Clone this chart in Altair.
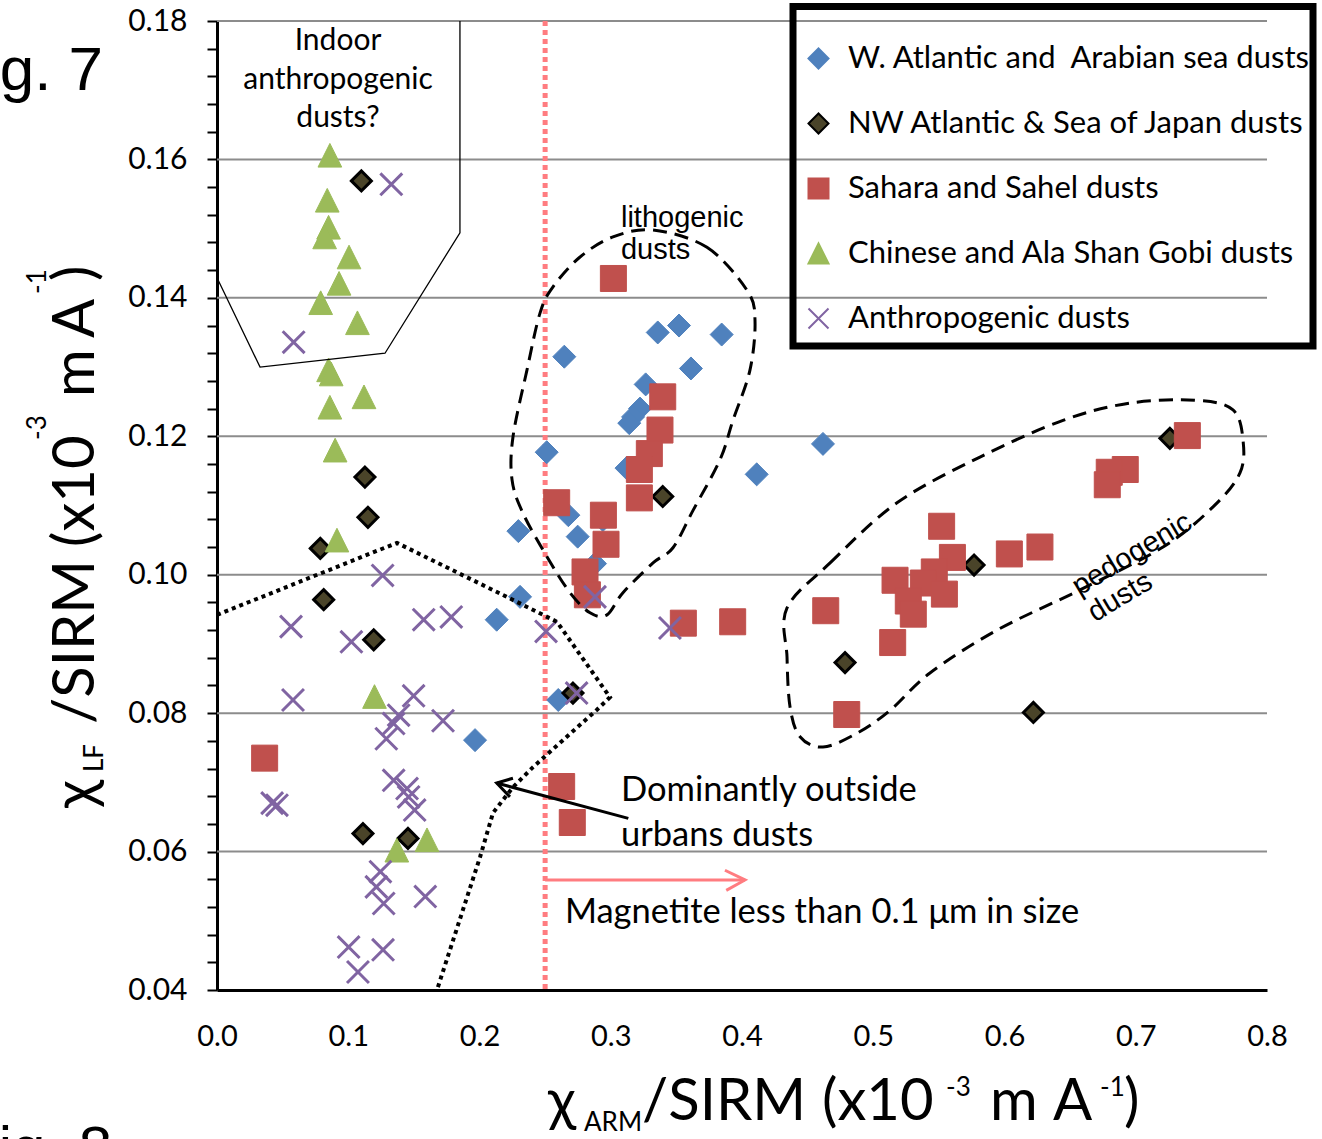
import altair as alt
import pandas as pd

# ---------------- data ----------------
series_names = ["W. Atlantic and\u00a0 Arabian sea dusts", "NW Atlantic & Sea of Japan dusts",
                "Sahara and Sahel dusts", "Chinese and Ala Shan Gobi dusts", "Anthropogenic dusts"]

watl_x = [0.2646, 0.3358, 0.3520, 0.3845, 0.3611, 0.3266, 0.3223, 0.3170, 0.3141, 0.2512, 0.3120,
          0.4112, 0.4617, 0.2677, 0.2296, 0.2748, 0.2940, 0.2880, 0.2309, 0.2131, 0.2600, 0.1966]
watl_y = [0.1315, 0.1350, 0.1360, 0.1347, 0.1298, 0.1275, 0.1240, 0.1228, 0.1219, 0.1177, 0.1154,
          0.1145, 0.1189, 0.1086, 0.1063, 0.1055, 0.1079, 0.1016, 0.0968, 0.0935, 0.0819, 0.0761]

nw_x = [0.110, 0.1127, 0.115, 0.0787, 0.0813, 0.1194, 0.1112, 0.1455, 0.2712, 0.3396, 0.5768, 0.4785, 0.622, 0.726]
nw_y = [0.1569, 0.1141, 0.1083, 0.1038, 0.0964, 0.0906, 0.0626, 0.0619, 0.0829, 0.1113, 0.1014, 0.0873, 0.0801, 0.1197]

sah_x = [0.302, 0.3396, 0.3375, 0.3294, 0.3218, 0.3218, 0.2588, 0.2944, 0.2964, 0.2804, 0.2822, 0.3553, 0.3929,
         0.2626, 0.2707, 0.0363, 0.7393, 0.692, 0.6798, 0.6783, 0.5521, 0.627, 0.6037, 0.5603, 0.5465, 0.5166,
         0.5382, 0.5542, 0.5267, 0.5305, 0.4638, 0.5148, 0.4798]
sah_y = [0.1428, 0.1257, 0.1209, 0.1175, 0.1152, 0.1111, 0.1104, 0.1086, 0.1044, 0.1004, 0.0971, 0.0930, 0.0932,
         0.0694, 0.0642, 0.0735, 0.1201, 0.1152, 0.1148, 0.1130, 0.1070, 0.1040, 0.1030, 0.1025, 0.1004, 0.0992,
         0.0988, 0.0972, 0.0962, 0.0943, 0.0948, 0.0902, 0.0798]

chn_x = [0.086, 0.084, 0.085, 0.082, 0.1006, 0.093, 0.079, 0.107, 0.085, 0.087, 0.112, 0.086, 0.090,
         0.0914, 0.120, 0.137, 0.160]
chn_y = [0.1606, 0.1541, 0.1502, 0.1488, 0.1459, 0.1421, 0.1393, 0.1364, 0.1296, 0.1290, 0.1257, 0.1242, 0.1180,
         0.1050, 0.0824, 0.0602, 0.0617]

ant_x = [0.1328, 0.0584, 0.1262, 0.0564, 0.1024, 0.1575, 0.1785, 0.0579, 0.1498, 0.1384, 0.1346, 0.1722, 0.1290,
         0.0457, 0.0420, 0.1346, 0.1448, 0.1460, 0.1506, 0.1245, 0.1214, 0.1270, 0.1587, 0.1003, 0.1265, 0.1074,
         0.2507, 0.3451, 0.2740, 0.2880]
ant_y = [0.1564, 0.1336, 0.0999, 0.0925, 0.0903, 0.0935, 0.0939, 0.0819, 0.0825, 0.0797, 0.0785, 0.0789, 0.0763,
         0.0667, 0.0670, 0.0703, 0.0691, 0.0679, 0.0660, 0.0571, 0.0549, 0.0525, 0.0535, 0.0462, 0.0458, 0.0426,
         0.0918, 0.0923, 0.0829, 0.0968]

x_ticks = [0.0, 0.1, 0.2, 0.3, 0.4, 0.5, 0.6, 0.7, 0.8]
y_grid = [0.06, 0.08, 0.10, 0.12, 0.14, 0.16, 0.18]
y_ticks = [round(0.04 + 0.004 * i, 3) for i in range(36)]
size_boundary = [0.25]

# annotation outlines (data units)
indoor_x = [0.0, 0.0328, 0.128, 0.1851, 0.1851]
indoor_y = [0.1429, 0.1300, 0.1320, 0.1494, 0.18]
urban_x = [0.0, 0.1371, 0.2133, 0.2590, 0.2994, 0.2895, 0.2636, 0.2408, 0.2255, 0.2103, 0.2004, 0.1676]
urban_y = [0.0942, 0.1046, 0.0975, 0.0932, 0.0823, 0.0805, 0.0761, 0.0722, 0.0693, 0.0656, 0.0592, 0.04]
litho_x = [0.3322, 0.3733, 0.4038, 0.4099, 0.4061, 0.3931, 0.3832, 0.3627, 0.3474, 0.3322, 0.3093, 0.2971,
           0.2842, 0.2690, 0.2514, 0.2331, 0.2248, 0.2255, 0.2362, 0.2461, 0.2560, 0.2766, 0.3017]
litho_y = [0.1498, 0.1473, 0.1411, 0.1368, 0.1296, 0.1223, 0.1166, 0.1093, 0.1039, 0.1017, 0.0974, 0.0942,
           0.0945, 0.0974, 0.1026, 0.1089, 0.1137, 0.1199, 0.1296, 0.1378, 0.1416, 0.1459, 0.1488]
pedo_x = [0.4343, 0.4671, 0.5181, 0.5813, 0.6446, 0.6956, 0.7467, 0.7741, 0.7817, 0.7794, 0.7589, 0.7208,
          0.6575, 0.5943, 0.5432, 0.5128, 0.4876, 0.4617, 0.4442, 0.4366, 0.4343]
pedo_y = [0.0952, 0.1017, 0.1104, 0.1170, 0.1223, 0.1248, 0.1252, 0.1238, 0.1195, 0.1147, 0.1098, 0.1040,
          0.0978, 0.0920, 0.0858, 0.0804, 0.0771, 0.0751, 0.0766, 0.0809, 0.0881]
pink_arrow_x = [0.25, 0.4023, 0.3870, 0.4023, 0.3880]
pink_arrow_y = [0.0559, 0.0559, 0.0573, 0.0559, 0.0544]
black_arrow_x = [0.3134, 0.2131, 0.2255, 0.2131, 0.2232]
black_arrow_y = [0.0648, 0.0699, 0.0706, 0.0699, 0.0679]

indoor_lines = ["Indoor", "anthropogenic", "dusts?"]
indoor_tx = [0.0922, 0.0922, 0.0922]
indoor_ty = [0.1771, 0.1715, 0.1660]
litho_lines = ["lithogenic", "dusts"]
litho_tx = [0.3078, 0.3078]
litho_ty = [0.1515, 0.1469]
pedo_lines = ["pedogenic", "dusts"]
pedo_tx = [0.6971, 0.6880]
pedo_ty = [0.1030, 0.0968]
note_lines = ["Dominantly outside", "urbans dusts", "Magnetite less than 0.1 μm in size"]
note_tx = [0.3078, 0.3078, 0.2651]
note_ty = [0.06875, 0.06224, 0.05112]

# ---------------- styling ----------------
W, H = 1050, 969
L, T = 217, 21
CAL = "Lato, Open Sans, DejaVu Sans"
ARI = "Liberation Sans, Arial"

fill_colors = ["#4F81BD", "#4A4429", "#C0504D", "#9BBB59", "transparent"]
stroke_colors = ["#4F81BD", "#000000", "#C0504D", "#9BBB59", "#8064A2"]
shapes = ["diamond", "diamond", "square", "M0,-1L1,1L-1,1Z", "M-1,-1L1,1M1,-1L-1,1"]
sizes = [529, 400, 676, 560, 480]
stroke_ws = [1, 3, 1, 1, 3]

xscale = alt.Scale(domain=[0, 0.8], nice=False, zero=False)
yscale = alt.Scale(domain=[0.04, 0.18], nice=False, zero=False)
xaxis = alt.Axis(values=x_ticks, format=".1f", ticks=False, grid=False, domainColor="black", domainWidth=3,
                 labelFont=CAL, labelFontSize=29, labelColor="black", labelPadding=32, labelFlush=False,
                 labelOverlap=False, title=None)
yaxis = alt.Axis(values=y_ticks, grid=False, domainColor="black", domainWidth=3, tickColor="black",
                 tickWidth=2, tickSize=10,
                 labelExpr="abs(datum.value*50 - round(datum.value*50)) < 0.001 ? format(datum.value, '.2f') : ''",
                 labelFont=CAL, labelFontSize=30, labelColor="black", labelPadding=20, labelFlush=False,
                 labelOverlap=False, title=None)
X = alt.X("x:Q", scale=xscale, axis=xaxis)
Y = alt.Y("y:Q", scale=yscale, axis=yaxis)

legend = alt.Legend(orient="none", legendX=574, legendY=-15, title=" ", titleFontSize=20, titlePadding=5,
                    labelFont=CAL, labelFontSize=31, labelColor="black", labelLimit=700, labelOffset=14,
                    symbolSize=400, symbolStrokeWidth=2, symbolOpacity=1, rowPadding=33, padding=12)

layers = []
grid_df = pd.DataFrame({"y": y_grid})
layers.append(alt.Chart(grid_df).mark_rule(color="#8C8C8C", strokeWidth=2).encode(y=Y))
layers.append(alt.Chart(pd.DataFrame({"x": size_boundary})).mark_rule(
    color="#FF7C80", strokeWidth=5, strokeDash=[5, 4]).encode(x=X))

all_x = [watl_x, nw_x, sah_x, chn_x, ant_x]
all_y = [watl_y, nw_y, sah_y, chn_y, ant_y]
for i, name in enumerate(series_names):
    df = pd.DataFrame({"x": all_x[i], "y": all_y[i], "series": name})
    layers.append(alt.Chart(df).mark_point(filled=True, opacity=1, size=sizes[i], strokeWidth=stroke_ws[i]).encode(
        x=X, y=Y,
        fill=alt.Fill("series:N", scale=alt.Scale(domain=series_names, range=fill_colors), legend=legend),
        stroke=alt.Stroke("series:N", scale=alt.Scale(domain=series_names, range=stroke_colors), legend=legend),
        shape=alt.Shape("series:N", scale=alt.Scale(domain=series_names, range=shapes), legend=legend),
    ))


def outline(xs, ys, **kw):
    df = pd.DataFrame({"x": xs, "y": ys, "i": list(range(len(xs)))})
    return alt.Chart(df).mark_line(color="black", **kw).encode(x=X, y=Y, order="i:Q")


layers.append(outline(indoor_x, indoor_y, strokeWidth=1.3))
layers.append(outline(urban_x, urban_y, strokeWidth=4, strokeDash=[4, 4]))
layers.append(outline(litho_x, litho_y, strokeWidth=3, strokeDash=[14, 8], interpolate="cardinal-closed"))
layers.append(outline(pedo_x, pedo_y, strokeWidth=3, strokeDash=[14, 8], interpolate="cardinal-closed"))


def arrow(xs, ys, color, width):
    df = pd.DataFrame({"x": xs, "y": ys, "seg": [0, 0, 1, 1, 1], "i": list(range(len(xs)))})
    return alt.Chart(df).mark_line(color=color, strokeWidth=width).encode(x=X, y=Y, detail="seg:N", order="i:Q")


layers.append(arrow(pink_arrow_x, pink_arrow_y, "#FF7C80", 3))
layers.append(arrow(black_arrow_x, black_arrow_y, "black", 3))


def notes(lines, xs, ys, **kw):
    df = pd.DataFrame({"x": xs, "y": ys, "t": lines})
    return alt.Chart(df).mark_text(color="black", baseline="middle", **kw).encode(x=X, y=Y, text="t:N")


layers.append(notes(indoor_lines, indoor_tx, indoor_ty, font=CAL, fontSize=30, align="center"))
layers.append(notes(litho_lines, litho_tx, litho_ty, font=ARI, fontSize=29, align="left"))
layers.append(notes(pedo_lines, pedo_tx, pedo_ty, font=ARI, fontSize=29, align="center", angle=329))
layers.append(notes(note_lines, note_tx, note_ty, font=CAL, fontSize=34.5, align="left"))

# legend frame (thick black border, transparent inside)
layers.append(alt.Chart(alt.Data(values=[{}])).mark_rect(
    fill="transparent", stroke="black", strokeWidth=7
).encode(x=alt.value(793 - L), x2=alt.value(1313 - L), y=alt.value(6.5 - T), y2=alt.value(346 - T)))


def label(text, px, py, size, font=CAL, angle=0):
    return alt.Chart(alt.Data(values=[{}])).mark_text(
        text=text, font=font, fontSize=size, angle=angle, align="left", baseline="alphabetic", color="black"
    ).encode(x=alt.value(px - L), y=alt.value(py - T))


# x-axis title pieces: text, x, baseline y, size
x_title = [("χ", 548, 1120, 58), ("ARM", 584, 1131, 26), ("/SIRM", 642, 1120, 58), ("(x10", 822, 1120, 58),
           ("-3", 946, 1096, 26), ("m", 990, 1120, 58), ("A", 1053, 1120, 58), ("-1", 1100, 1096, 26),
           (")", 1124, 1120, 58)]
for t, px, py, s in x_title:
    layers.append(label(t, px, py, s))
# y-axis title pieces (rotated): text, baseline x, start y, size
y_title = [("χ", 94, 808, 58), ("LF", 103, 772, 26), ("/SIRM", 94, 724, 58), ("(x10", 94, 547, 58),
           ("-3", 46, 440, 26), ("m", 94, 397, 58), ("A", 94, 338, 58), ("-1", 46, 294, 26), (")", 94, 281, 58)]
for t, px, py, s in y_title:
    layers.append(label(t, px, py, s, angle=270))

layers.append(label("Fig. 7", -52, 90, 62, font=ARI))
layers.append(label("Fig. 8", -38, 1168, 60, font=ARI))

chart = alt.layer(*layers).properties(
    width=W, height=H,
    padding={"left": L, "top": T, "right": 1322 - L - W, "bottom": 1139 - T - H},
    autosize=alt.AutoSizeParams(type="none"),
    background="white",
).configure_view(strokeWidth=0)

chart.save("out.html", embed_options={"renderer": "svg", "actions": False})
